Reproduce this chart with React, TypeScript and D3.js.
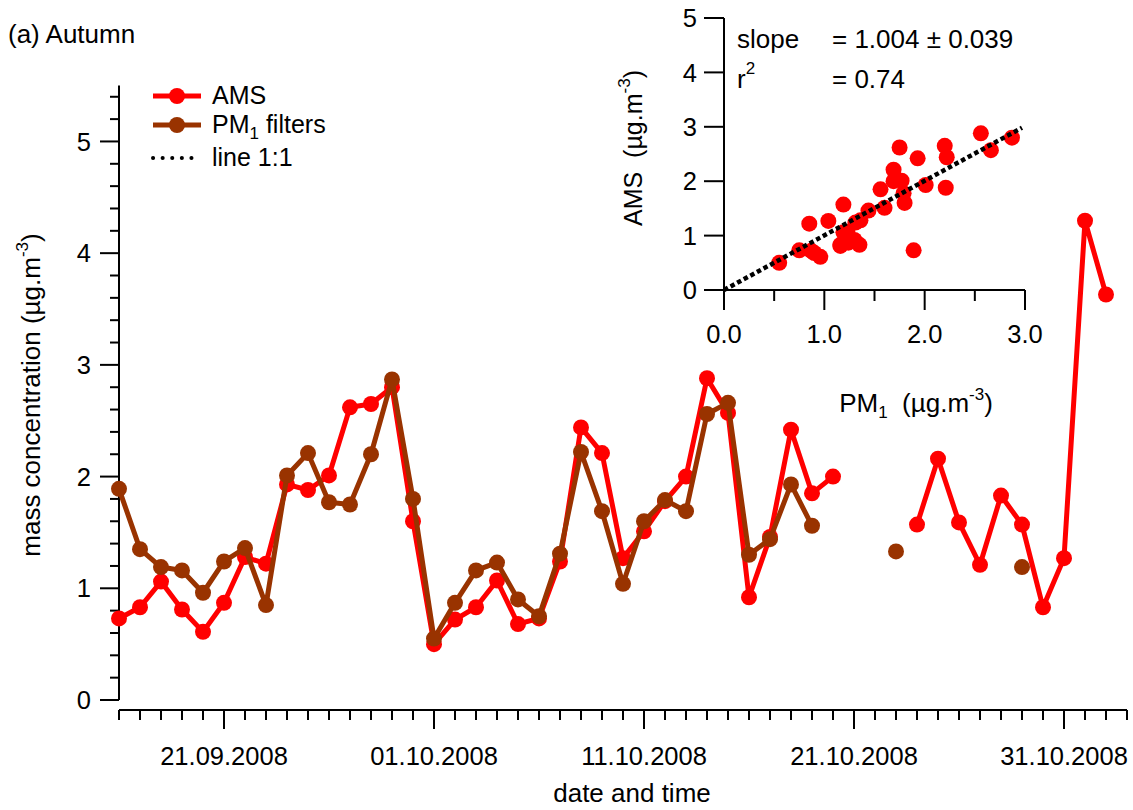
import React from 'react';
import * as d3 from 'd3';

// ---------- data ----------
const startDateLabel = '16.09.2008';
const dayCount = 48;

// daily values (16.09.2008 ... 02.11.2008), null = no data
const amsValues: (number | null)[] = [
  0.73, 0.83, 1.06, 0.81, 0.61, 0.87, 1.28, 1.22, 1.93, 1.88,
  2.01, 2.62, 2.65, 2.80, 1.60, 0.50, 0.72, 0.83, 1.07, 0.68,
  0.73, 1.24, 2.44, 2.21, 1.27, 1.51, 1.78, 2.00, 2.88, 2.57,
  0.92, 1.46, 2.42, 1.85, 2.00, null, null, null, 1.57, 2.16,
  1.59, 1.21, 1.83, 1.57, 0.83, 1.27, 4.29, 3.63,
];
const pm1Values: (number | null)[] = [
  1.89, 1.35, 1.19, 1.16, 0.96, 1.24, 1.36, 0.85, 2.01, 2.21,
  1.77, 1.75, 2.20, 2.87, 1.80, 0.55, 0.87, 1.16, 1.23, 0.90,
  0.75, 1.31, 2.22, 1.69, 1.04, 1.60, 1.79, 1.69, 2.56, 2.66,
  1.30, 1.44, 1.93, 1.56, null, null, null, 1.33, null, null,
  null, null, null, 1.19, null, null, null, null,
];

const dateTickLabels = ['21.09.2008', '01.10.2008', '11.10.2008', '21.10.2008', '31.10.2008'];
const mainYTicks = [0, 1, 2, 3, 4, 5];
const mainYMax = 5.5;
const insetXTicks = [0, 0.5, 1, 1.5, 2, 2.5, 3];
const insetXLabels = [0, 1, 2, 3];
const insetYTicks = [0, 1, 2, 3, 4, 5];
const fitSlope = 1.004;
const fitXEnd = 2.97;
const slopeText = '= 1.004 ± 0.039';
const r2Text = '= 0.74';

// ---------- style ----------
const FONT = '"Liberation Sans", Arial, Helvetica, sans-serif';
const RED = '#ff0000';
const BROWN = '#993300';
const FS = 26; // labels
const TS = 25.5; // tick labels
const SUP = 17;

const parse = d3.timeParse('%d.%m.%Y');

export default function App() {
  const start = parse(startDateLabel) as Date;
  const dates = d3.range(dayCount).map((i) => d3.timeDay.offset(start, i));
  const end = d3.timeDay.offset(start, dayCount);

  const x = d3.scaleTime().domain([start, end]).range([119, 1127]);
  const y = d3.scaleLinear().domain([0, mainYMax]).range([700, 85.6]);

  const majorDates = dateTickLabels.map((l) => parse(l) as Date);
  const tickDates = d3.timeDay.range(start, d3.timeDay.offset(end, 1));
  const isMajor = (d: Date) => majorDates.some((m) => +m === +d);
  const fmt = d3.timeFormat('%d.%m.%Y');

  const line = d3
    .line<number | null>()
    .defined((v) => v != null)
    .x((_, i) => x(dates[i]))
    .y((v) => y(v as number));

  const minorY = d3.range(0, mainYMax, 0.2).filter((v) => Math.abs(v - Math.round(v)) > 1e-6);

  // inset
  const ix = d3.scaleLinear().domain([0, 3]).range([724, 1025]);
  const iy = d3.scaleLinear().domain([0, 5]).range([290, 18]);
  const pairs = amsValues
    .map((a, i) => [pm1Values[i], a] as [number | null, number | null])
    .filter((p) => p[0] != null && p[1] != null) as [number, number][];
  const fitLine = d3
    .line<number>()
    .x((v) => ix(v))
    .y((v) => iy(v * fitSlope))([0, fitXEnd]);

  const series = [
    { key: 'ams', values: amsValues, color: RED },
    { key: 'pm1', values: pm1Values, color: BROWN },
  ];

  return (
    <svg
      width={1133}
      height={810}
      style={{ position: 'absolute', left: 0, top: 0, background: '#fff' }}
      fontFamily={FONT}
    >
      <rect width={1133} height={810} fill="#fff" />
      {/* title */}
      <text x={8} y={43} fontSize={FS} fill="#000">(a) Autumn</text>

      {/* main y axis */}
      <g stroke="#000" strokeWidth={2}>
        <line x1={119} x2={119} y1={y(0)} y2={y(mainYMax)} />
        {mainYTicks.map((t) => (
          <line key={'yt' + t} x1={100} x2={119} y1={y(t)} y2={y(t)} />
        ))}
        {minorY.map((t) => (
          <line key={'ym' + t} x1={110} x2={119} y1={y(t)} y2={y(t)} />
        ))}
      </g>
      {mainYTicks.map((t) => (
        <text key={'yl' + t} x={91} y={y(t)} dy="0.36em" textAnchor="end" fontSize={TS}>
          {t}
        </text>
      ))}
      <text transform={`translate(40,395) rotate(-90)`} textAnchor="middle" fontSize={FS}>
        mass concentration (µg.m
        <tspan dy={-12} fontSize={SUP}>-3</tspan>
        <tspan dy={12}>)</tspan>
      </text>

      {/* main x axis */}
      <g stroke="#000" strokeWidth={2}>
        <line x1={x(start)} x2={x(end)} y1={710} y2={710} />
        {tickDates.map((d) => (
          <line key={'xt' + +d} x1={x(d)} x2={x(d)} y1={710} y2={isMajor(d) ? 729 : 720} />
        ))}
      </g>
      {majorDates.map((d) => (
        <text key={'xl' + +d} x={x(d)} y={765} textAnchor="middle" fontSize={TS}>
          {fmt(d)}
        </text>
      ))}
      <text x={632} y={802} textAnchor="middle" fontSize={FS}>date and time</text>

      {/* series */}
      {series.map((s) => (
        <g key={s.key}>
          <path d={line(s.values) || ''} fill="none" stroke={s.color} strokeWidth={5} strokeLinejoin="round" />
          {s.values.map((v, i) =>
            v == null ? null : <circle key={i} cx={x(dates[i])} cy={y(v)} r={8} fill={s.color} />
          )}
        </g>
      ))}

      {/* legend */}
      <g>
        <line x1={153} x2={201} y1={96} y2={96} stroke={RED} strokeWidth={5} />
        <circle cx={177} cy={96} r={8} fill={RED} />
        <text x={212} y={104} fontSize={FS - 1}>AMS</text>
        <line x1={153} x2={201} y1={125} y2={125} stroke={BROWN} strokeWidth={5} />
        <circle cx={177} cy={125} r={8} fill={BROWN} />
        <text x={212} y={133} fontSize={FS - 1}>
          PM<tspan dy={6} fontSize={SUP}>1</tspan>
          <tspan dy={-6}> filters</tspan>
        </text>
        <line x1={153} x2={200} y1={158} y2={158} stroke="#000" strokeWidth={4} strokeDasharray="0.1 9.5" strokeLinecap="round" />
        <text x={212} y={166} fontSize={FS - 1}>line 1:1</text>
      </g>

      {/* inset */}
      <g>
        <g fill={RED}>
          {pairs.map((p, i) => (
            <circle key={i} cx={ix(p[0])} cy={iy(p[1])} r={8} />
          ))}
        </g>
        <path d={fitLine || ''} fill="none" stroke="#000" strokeWidth={4.5} strokeDasharray="4.5 3" />
        <g stroke="#000" strokeWidth={2}>
          <line x1={ix(0)} x2={ix(0)} y1={iy(5)} y2={iy(0) + 20} />
          <line x1={ix(0) - 20} x2={ix(3)} y1={iy(0)} y2={iy(0)} />
          {insetYTicks.map((t) => (
            <line key={'iyt' + t} x1={ix(0) - 20} x2={ix(0)} y1={iy(t)} y2={iy(t)} />
          ))}
          {insetXTicks.map((t) => (
            <line
              key={'ixt' + t}
              x1={ix(t)}
              x2={ix(t)}
              y1={iy(0)}
              y2={iy(0) + (Number.isInteger(t) ? 20 : 11)}
            />
          ))}
        </g>
        {insetYTicks.map((t) => (
          <text key={'iyl' + t} x={697} y={iy(t)} dy="0.36em" textAnchor="end" fontSize={TS}>
            {t}
          </text>
        ))}
        {insetXLabels.map((t) => (
          <text key={'ixl' + t} x={ix(t)} y={343} textAnchor="middle" fontSize={TS}>
            {t.toFixed(1)}
          </text>
        ))}
        <text transform={`translate(642,148) rotate(-90)`} textAnchor="middle" fontSize={FS - 1}>
          AMS{'\u00a0\u00a0'}(µg.m
          <tspan dy={-12} fontSize={SUP}>-3</tspan>
          <tspan dy={12}>)</tspan>
        </text>
        <text x={916} y={412} textAnchor="middle" fontSize={FS}>
          PM<tspan dy={6} fontSize={SUP}>1</tspan>
          <tspan dy={-6}>{'\u00a0\u00a0'}(µg.m</tspan>
          <tspan dy={-12} fontSize={SUP}>-3</tspan>
          <tspan dy={12}>)</tspan>
        </text>
        <text x={737} y={48} fontSize={FS}>slope</text>
        <text x={832} y={48} fontSize={FS}>{slopeText}</text>
        <text x={737} y={88} fontSize={FS}>
          r<tspan dy={-14} fontSize={SUP}>2</tspan>
        </text>
        <text x={832} y={88} fontSize={FS}>{r2Text}</text>
      </g>
    </svg>
  );
}
